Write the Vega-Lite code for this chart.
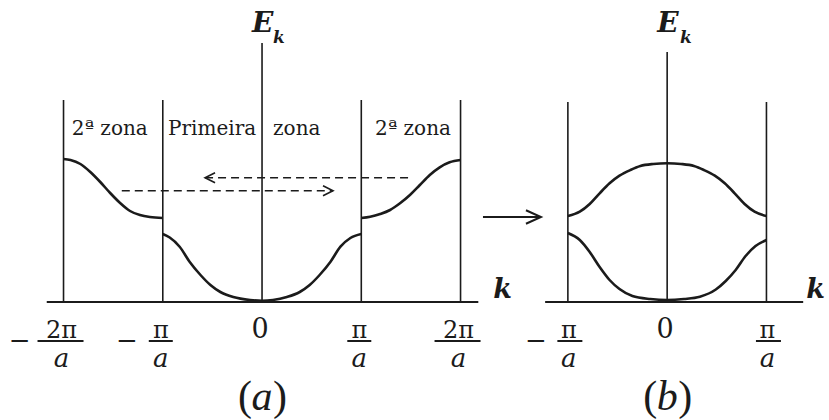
{
  "$schema": "https://vega.github.io/schema/vega-lite/v6.json",
  "background": "white",
  "padding": 0,
  "spacing": 0,
  "bounds": "flush",
  "config": {
    "view": {"stroke": null},
    "axis": {"disable": true},
    "text": {"font": "DejaVu Serif", "color": "#1b1b1b"},
    "rule": {"color": "#1b1b1b"},
    "line": {"color": "#1b1b1b"}
  },
  "datasets": {
    "bands_a": [
      {"seg": "2a zona esq", "k": -2, "E": 1.43}, {"seg": "2a zona esq", "k": -1.93, "E": 1.42},
      {"seg": "2a zona esq", "k": -1.83, "E": 1.38}, {"seg": "2a zona esq", "k": -1.73, "E": 1.3},
      {"seg": "2a zona esq", "k": -1.63, "E": 1.2}, {"seg": "2a zona esq", "k": -1.53, "E": 1.09},
      {"seg": "2a zona esq", "k": -1.43, "E": 0.99}, {"seg": "2a zona esq", "k": -1.33, "E": 0.91},
      {"seg": "2a zona esq", "k": -1.23, "E": 0.87}, {"seg": "2a zona esq", "k": -1.13, "E": 0.85},
      {"seg": "2a zona esq", "k": -1, "E": 0.84},
      {"seg": "primeira", "k": -1, "E": 0.68}, {"seg": "primeira", "k": -0.93, "E": 0.645},
      {"seg": "primeira", "k": -0.83, "E": 0.553}, {"seg": "primeira", "k": -0.73, "E": 0.403},
      {"seg": "primeira", "k": -0.62, "E": 0.27}, {"seg": "primeira", "k": -0.52, "E": 0.17},
      {"seg": "primeira", "k": -0.42, "E": 0.1}, {"seg": "primeira", "k": -0.29, "E": 0.05},
      {"seg": "primeira", "k": -0.12, "E": 0.02}, {"seg": "primeira", "k": 0, "E": 0.012},
      {"seg": "primeira", "k": 0.11, "E": 0.02}, {"seg": "primeira", "k": 0.25, "E": 0.05},
      {"seg": "primeira", "k": 0.38, "E": 0.1}, {"seg": "primeira", "k": 0.48, "E": 0.17},
      {"seg": "primeira", "k": 0.58, "E": 0.27}, {"seg": "primeira", "k": 0.69, "E": 0.403},
      {"seg": "primeira", "k": 0.79, "E": 0.553}, {"seg": "primeira", "k": 0.89, "E": 0.64},
      {"seg": "primeira", "k": 1, "E": 0.68},
      {"seg": "2a zona dir", "k": 1, "E": 0.84}, {"seg": "2a zona dir", "k": 1.09, "E": 0.853},
      {"seg": "2a zona dir", "k": 1.19, "E": 0.88}, {"seg": "2a zona dir", "k": 1.29, "E": 0.92},
      {"seg": "2a zona dir", "k": 1.39, "E": 0.987}, {"seg": "2a zona dir", "k": 1.49, "E": 1.07},
      {"seg": "2a zona dir", "k": 1.59, "E": 1.17}, {"seg": "2a zona dir", "k": 1.69, "E": 1.27},
      {"seg": "2a zona dir", "k": 1.79, "E": 1.347}, {"seg": "2a zona dir", "k": 1.89, "E": 1.397},
      {"seg": "2a zona dir", "k": 2, "E": 1.42}
    ],
    "bands_b": [
      {"band": "superior", "k": -1, "E": 0.86}, {"band": "superior", "k": -0.88, "E": 0.903},
      {"band": "superior", "k": -0.78, "E": 0.98}, {"band": "superior", "k": -0.68, "E": 1.087},
      {"band": "superior", "k": -0.58, "E": 1.187}, {"band": "superior", "k": -0.48, "E": 1.263},
      {"band": "superior", "k": -0.37, "E": 1.32}, {"band": "superior", "k": -0.27, "E": 1.36},
      {"band": "superior", "k": -0.14, "E": 1.38}, {"band": "superior", "k": 0, "E": 1.387},
      {"band": "superior", "k": 0.14, "E": 1.38}, {"band": "superior", "k": 0.27, "E": 1.36},
      {"band": "superior", "k": 0.37, "E": 1.32}, {"band": "superior", "k": 0.48, "E": 1.263},
      {"band": "superior", "k": 0.58, "E": 1.187}, {"band": "superior", "k": 0.68, "E": 1.087},
      {"band": "superior", "k": 0.78, "E": 0.98}, {"band": "superior", "k": 0.88, "E": 0.903},
      {"band": "superior", "k": 1, "E": 0.86},
      {"band": "inferior", "k": -1, "E": 0.69}, {"band": "inferior", "k": -0.88, "E": 0.62},
      {"band": "inferior", "k": -0.78, "E": 0.5}, {"band": "inferior", "k": -0.68, "E": 0.35},
      {"band": "inferior", "k": -0.58, "E": 0.22}, {"band": "inferior", "k": -0.48, "E": 0.13},
      {"band": "inferior", "k": -0.35, "E": 0.06}, {"band": "inferior", "k": -0.17, "E": 0.03},
      {"band": "inferior", "k": 0, "E": 0.02}, {"band": "inferior", "k": 0.17, "E": 0.03},
      {"band": "inferior", "k": 0.33, "E": 0.053}, {"band": "inferior", "k": 0.49, "E": 0.125},
      {"band": "inferior", "k": 0.59, "E": 0.21}, {"band": "inferior", "k": 0.69, "E": 0.32},
      {"band": "inferior", "k": 0.79, "E": 0.46}, {"band": "inferior", "k": 0.89, "E": 0.56},
      {"band": "inferior", "k": 1, "E": 0.62}
    ],
    "ticks_a": [
      {"k": -2, "num": "2π", "den": "a", "sign": "−"},
      {"k": -1, "num": "π", "den": "a", "sign": "−"},
      {"k": 0, "num": "0", "den": "", "sign": ""},
      {"k": 1, "num": "π", "den": "a", "sign": ""},
      {"k": 2, "num": "2π", "den": "a", "sign": ""}
    ],
    "ticks_b": [
      {"k": -1, "num": "π", "den": "a", "sign": "−"},
      {"k": 0, "num": "0", "den": "", "sign": ""},
      {"k": 1, "num": "π", "den": "a", "sign": ""}
    ]
  },
  "hconcat": [
    {
      "width": 480,
      "height": 420,
      "layer": [
        {
          "data": {"name": "bands_a"},
          "mark": {"type": "line", "interpolate": "monotone", "strokeWidth": 2.6},
          "encoding": {
            "x": {"field": "k", "type": "quantitative", "scale": {"domain": [-2.64, 2.196], "nice": false, "zero": false}, "axis": null},
            "y": {"field": "E", "type": "quantitative", "scale": {"domain": [-1.18, 3.02], "nice": false, "zero": false}, "axis": null},
            "detail": {"field": "seg", "type": "nominal"}
          }
        },
        {
          "data": {"values": [{"k": -2, "E": 0, "top": 2.02}, {"k": -1, "E": 0, "top": 2.02}, {"k": 0, "E": 0, "top": 2.59}, {"k": 1, "E": 0, "top": 2.02}, {"k": 2, "E": 0, "top": 2.02}]},
          "mark": {"type": "rule", "strokeWidth": 1.6},
          "encoding": {
            "x": {"field": "k", "type": "quantitative"},
            "y": {"field": "E", "type": "quantitative"},
            "y2": {"field": "top"}
          }
        },
        {
          "data": {"values": [{"k": -2.169, "k2": 2.179, "E": 0}]},
          "mark": {"type": "rule", "strokeWidth": 2.2},
          "encoding": {
            "x": {"field": "k", "type": "quantitative"},
            "x2": {"field": "k2"},
            "y": {"field": "E", "type": "quantitative"}
          }
        },
        {
          "data": {"values": [{"k": -0.574, "k2": 1.521, "E": 1.243, "head": "esq"}, {"k": -1.413, "k2": 0.715, "E": 1.113, "head": "dir"}]},
          "layer": [
            {
              "mark": {"type": "rule", "strokeWidth": 1.6, "strokeDash": [8, 5]},
              "encoding": {
                "x": {"field": "k", "type": "quantitative"},
                "x2": {"field": "k2"},
                "y": {"field": "E", "type": "quantitative"}
              }
            },
            {
              "transform": [{"filter": "datum.head == 'esq'"}],
              "mark": {"type": "point", "shape": "M 1 -0.5 L 0 0 L 1 0.5", "filled": false, "size": 400, "strokeWidth": 1.6, "opacity": 1, "color": "#1b1b1b"},
              "encoding": {
                "x": {"field": "k", "type": "quantitative"},
                "y": {"field": "E", "type": "quantitative"}
              }
            },
            {
              "transform": [{"filter": "datum.head == 'dir'"}],
              "mark": {"type": "point", "shape": "M -1 -0.5 L 0 0 L -1 0.5", "filled": false, "size": 400, "strokeWidth": 1.6, "opacity": 1, "color": "#1b1b1b"},
              "encoding": {
                "x": {"field": "k2", "type": "quantitative"},
                "y": {"field": "E", "type": "quantitative"}
              }
            }
          ]
        },
        {
          "data": {"values": [
            {"k": -1.917, "E": 1.67, "label": "2ª zona"},
            {"k": -0.947, "E": 1.67, "label": "Primeira"},
            {"k": 0.111, "E": 1.67, "label": "zona"},
            {"k": 1.138, "E": 1.67, "label": "2ª zona"}
          ]},
          "mark": {"type": "text", "fontSize": 20, "align": "left", "baseline": "alphabetic"},
          "encoding": {
            "x": {"field": "k", "type": "quantitative"},
            "y": {"field": "E", "type": "quantitative"},
            "text": {"field": "label", "type": "nominal"}
          }
        },
        {
          "data": {"name": "ticks_a"},
          "layer": [
            {
              "transform": [{"filter": "datum.den != ''"}],
              "mark": {"type": "text", "fontSize": 24, "align": "center", "baseline": "alphabetic", "dx": -2},
              "encoding": {
                "x": {"field": "k", "type": "quantitative"},
                "y": {"datum": -0.36, "type": "quantitative"},
                "text": {"field": "num", "type": "nominal"}
              }
            },
            {
              "transform": [{"filter": "datum.den != ''"}],
              "mark": {"type": "text", "fontSize": 26, "fontStyle": "italic", "align": "center", "baseline": "alphabetic", "dx": -2},
              "encoding": {
                "x": {"field": "k", "type": "quantitative"},
                "y": {"datum": -0.65, "type": "quantitative"},
                "text": {"field": "den", "type": "nominal"}
              }
            },
            {
              "transform": [{"filter": "datum.den == ''"}],
              "mark": {"type": "text", "fontSize": 27, "align": "center", "baseline": "alphabetic", "dx": -2},
              "encoding": {
                "x": {"field": "k", "type": "quantitative"},
                "y": {"datum": -0.36, "type": "quantitative"},
                "text": {"field": "num", "type": "nominal"}
              }
            },
            {
              "transform": [{"filter": "datum.num == '2π'"}],
              "mark": {"type": "tick", "orient": "horizontal", "size": 46, "thickness": 2, "xOffset": -3, "color": "#1b1b1b", "opacity": 1},
              "encoding": {
                "x": {"field": "k", "type": "quantitative"},
                "y": {"datum": -0.39, "type": "quantitative"}
              }
            },
            {
              "transform": [{"filter": "datum.num == 'π'"}],
              "mark": {"type": "tick", "orient": "horizontal", "size": 24, "thickness": 2, "xOffset": -2, "color": "#1b1b1b", "opacity": 1},
              "encoding": {
                "x": {"field": "k", "type": "quantitative"},
                "y": {"datum": -0.39, "type": "quantitative"}
              }
            },
            {
              "transform": [{"filter": "datum.num == '2π' && datum.sign != ''"}],
              "mark": {"type": "text", "fontSize": 26, "align": "center", "baseline": "alphabetic", "dx": -44},
              "encoding": {
                "x": {"field": "k", "type": "quantitative"},
                "y": {"datum": -0.47, "type": "quantitative"},
                "text": {"field": "sign", "type": "nominal"}
              }
            },
            {
              "transform": [{"filter": "datum.num == 'π' && datum.sign != ''"}],
              "mark": {"type": "text", "fontSize": 26, "align": "center", "baseline": "alphabetic", "dx": -36},
              "encoding": {
                "x": {"field": "k", "type": "quantitative"},
                "y": {"datum": -0.47, "type": "quantitative"},
                "text": {"field": "sign", "type": "nominal"}
              }
            }
          ]
        },
        {
          "data": {"values": [{"k": -0.1, "E": 2.7, "sk": 0.11, "sE": 2.59, "ak": 2.33, "aE": 0.04, "ck": 0, "cE": -1.08, "cap": "a"}]},
          "layer": [
            {
              "mark": {"type": "text", "text": "E", "fontSize": 28, "fontStyle": "italic", "fontWeight": "bold", "align": "left", "baseline": "alphabetic"},
              "encoding": {"x": {"field": "k", "type": "quantitative"}, "y": {"field": "E", "type": "quantitative"}}
            },
            {
              "mark": {"type": "text", "text": "k", "fontSize": 17, "fontStyle": "italic", "fontWeight": "bold", "align": "left", "baseline": "alphabetic"},
              "encoding": {"x": {"field": "sk", "type": "quantitative"}, "y": {"field": "sE", "type": "quantitative"}}
            },
            {
              "mark": {"type": "text", "text": "k", "fontSize": 27, "fontStyle": "italic", "fontWeight": "bold", "align": "left", "baseline": "alphabetic"},
              "encoding": {"x": {"field": "ak", "type": "quantitative"}, "y": {"field": "aE", "type": "quantitative"}}
            },
            {
              "mark": {"type": "text", "font": "Liberation Serif", "fontSize": 42, "fontStyle": "italic", "align": "center", "baseline": "alphabetic"},
              "encoding": {"x": {"field": "ck", "type": "quantitative"}, "y": {"field": "cE", "type": "quantitative"}, "text": {"field": "cap", "type": "nominal"}}
            },
            {
              "mark": {"type": "text", "text": "(", "font": "Liberation Serif", "fontSize": 42, "align": "right", "baseline": "alphabetic", "dx": -10},
              "encoding": {"x": {"field": "ck", "type": "quantitative"}, "y": {"field": "cE", "type": "quantitative"}}
            },
            {
              "mark": {"type": "text", "text": ")", "font": "Liberation Serif", "fontSize": 42, "align": "left", "baseline": "alphabetic", "dx": 11},
              "encoding": {"x": {"field": "ck", "type": "quantitative"}, "y": {"field": "cE", "type": "quantitative"}}
            }
          ]
        }
      ]
    },
    {
      "width": 349,
      "height": 420,
      "layer": [
        {
          "data": {"name": "bands_b"},
          "mark": {"type": "line", "interpolate": "monotone", "strokeWidth": 2.6},
          "encoding": {
            "x": {"field": "k", "type": "quantitative", "scale": {"domain": [-1.885, 1.63], "nice": false, "zero": false}, "axis": null},
            "y": {"field": "E", "type": "quantitative", "scale": {"domain": [-1.18, 3.02], "nice": false, "zero": false}, "axis": null},
            "detail": {"field": "band", "type": "nominal"}
          }
        },
        {
          "data": {"values": [{"k": -1, "E": 0, "top": 2.0}, {"k": 0, "E": 0, "top": 2.5}, {"k": 1, "E": 0, "top": 2.0}]},
          "mark": {"type": "rule", "strokeWidth": 1.6},
          "encoding": {
            "x": {"field": "k", "type": "quantitative"},
            "y": {"field": "E", "type": "quantitative"},
            "y2": {"field": "top"}
          }
        },
        {
          "data": {"values": [{"k": -1.229, "k2": 1.37, "E": 0}]},
          "mark": {"type": "rule", "strokeWidth": 2.2},
          "encoding": {
            "x": {"field": "k", "type": "quantitative"},
            "x2": {"field": "k2"},
            "y": {"field": "E", "type": "quantitative"}
          }
        },
        {
          "data": {"values": [{"k": -1.855, "k2": -1.271, "E": 0.85}]},
          "layer": [
            {
              "mark": {"type": "rule", "strokeWidth": 2},
              "encoding": {
                "x": {"field": "k", "type": "quantitative"},
                "x2": {"field": "k2"},
                "y": {"field": "E", "type": "quantitative"}
              }
            },
            {
              "mark": {"type": "point", "shape": "M -1 -0.45 L 0 0 L -1 0.45", "filled": false, "size": 900, "strokeWidth": 2, "opacity": 1, "color": "#1b1b1b"},
              "encoding": {
                "x": {"field": "k2", "type": "quantitative"},
                "y": {"field": "E", "type": "quantitative"}
              }
            }
          ]
        },
        {
          "data": {"name": "ticks_b"},
          "layer": [
            {
              "transform": [{"filter": "datum.den != ''"}],
              "mark": {"type": "text", "fontSize": 24, "align": "center", "baseline": "alphabetic", "dx": 1},
              "encoding": {
                "x": {"field": "k", "type": "quantitative"},
                "y": {"datum": -0.36, "type": "quantitative"},
                "text": {"field": "num", "type": "nominal"}
              }
            },
            {
              "transform": [{"filter": "datum.den != ''"}],
              "mark": {"type": "text", "fontSize": 26, "fontStyle": "italic", "align": "center", "baseline": "alphabetic", "dx": 1},
              "encoding": {
                "x": {"field": "k", "type": "quantitative"},
                "y": {"datum": -0.65, "type": "quantitative"},
                "text": {"field": "den", "type": "nominal"}
              }
            },
            {
              "transform": [{"filter": "datum.den == ''"}],
              "mark": {"type": "text", "fontSize": 27, "align": "center", "baseline": "alphabetic", "dx": -2},
              "encoding": {
                "x": {"field": "k", "type": "quantitative"},
                "y": {"datum": -0.36, "type": "quantitative"},
                "text": {"field": "num", "type": "nominal"}
              }
            },
            {
              "transform": [{"filter": "datum.den != ''"}],
              "mark": {"type": "tick", "orient": "horizontal", "size": 25, "thickness": 2, "xOffset": 2, "color": "#1b1b1b", "opacity": 1},
              "encoding": {
                "x": {"field": "k", "type": "quantitative"},
                "y": {"datum": -0.39, "type": "quantitative"}
              }
            },
            {
              "transform": [{"filter": "datum.sign != ''"}],
              "mark": {"type": "text", "fontSize": 26, "align": "center", "baseline": "alphabetic", "dx": -32},
              "encoding": {
                "x": {"field": "k", "type": "quantitative"},
                "y": {"datum": -0.47, "type": "quantitative"},
                "text": {"field": "sign", "type": "nominal"}
              }
            }
          ]
        },
        {
          "data": {"values": [{"k": -0.1, "E": 2.7, "sk": 0.13, "sE": 2.59, "ak": 1.4, "aE": 0.04, "ck": 0, "cE": -1.08, "cap": "b"}]},
          "layer": [
            {
              "mark": {"type": "text", "text": "E", "fontSize": 28, "fontStyle": "italic", "fontWeight": "bold", "align": "left", "baseline": "alphabetic"},
              "encoding": {"x": {"field": "k", "type": "quantitative"}, "y": {"field": "E", "type": "quantitative"}}
            },
            {
              "mark": {"type": "text", "text": "k", "fontSize": 17, "fontStyle": "italic", "fontWeight": "bold", "align": "left", "baseline": "alphabetic"},
              "encoding": {"x": {"field": "sk", "type": "quantitative"}, "y": {"field": "sE", "type": "quantitative"}}
            },
            {
              "mark": {"type": "text", "text": "k", "fontSize": 27, "fontStyle": "italic", "fontWeight": "bold", "align": "left", "baseline": "alphabetic"},
              "encoding": {"x": {"field": "ak", "type": "quantitative"}, "y": {"field": "aE", "type": "quantitative"}}
            },
            {
              "mark": {"type": "text", "font": "Liberation Serif", "fontSize": 42, "fontStyle": "italic", "align": "center", "baseline": "alphabetic"},
              "encoding": {"x": {"field": "ck", "type": "quantitative"}, "y": {"field": "cE", "type": "quantitative"}, "text": {"field": "cap", "type": "nominal"}}
            },
            {
              "mark": {"type": "text", "text": "(", "font": "Liberation Serif", "fontSize": 42, "align": "right", "baseline": "alphabetic", "dx": -10},
              "encoding": {"x": {"field": "ck", "type": "quantitative"}, "y": {"field": "cE", "type": "quantitative"}}
            },
            {
              "mark": {"type": "text", "text": ")", "font": "Liberation Serif", "fontSize": 42, "align": "left", "baseline": "alphabetic", "dx": 11},
              "encoding": {"x": {"field": "ck", "type": "quantitative"}, "y": {"field": "cE", "type": "quantitative"}}
            }
          ]
        }
      ]
    }
  ]
}
